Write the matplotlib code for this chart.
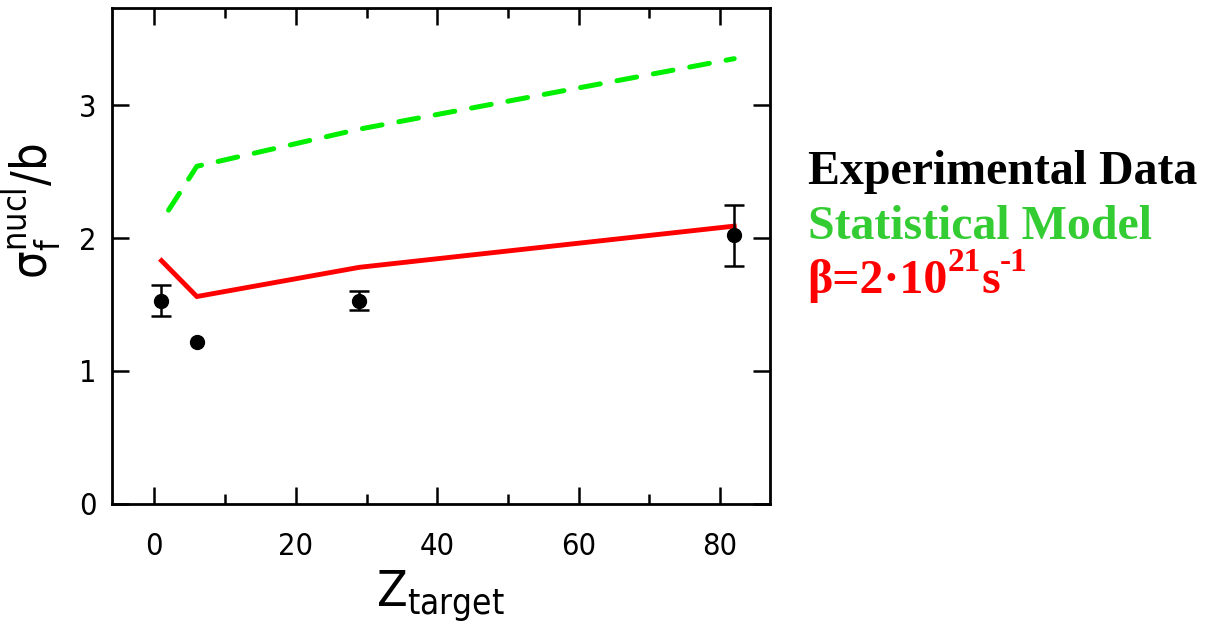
import matplotlib
matplotlib.use("Agg")
import matplotlib.pyplot as plt
from matplotlib.ticker import MultipleLocator

# measured fission cross sections vs. target charge
z_exp = [1, 6, 29, 82]
sigma_exp = [1.53, 1.22, 1.53, 2.02]
sigma_err = [0.12, 0.0, 0.075, 0.23]

# statistical model (no dissipation)
z_stat = [2.0, 6, 29, 82]
sigma_stat = [2.21, 2.54, 2.82, 3.35]

# model with beta = 2e21 /s
z_beta = [1, 6, 29, 82]
sigma_beta = [1.83, 1.56, 1.78, 2.09]

plt.rcParams["font.family"] = ["DejaVu Sans"]
plt.rcParams["font.stretch"] = "condensed"
plt.rcParams["mathtext.default"] = "regular"

fig = plt.figure(figsize=(12.2, 6.29), dpi=100)
ax = fig.add_axes([0.0918, 0.199, 0.539, 0.788])

ax.plot(z_stat, sigma_stat, color="#00f000", lw=3.6, ls=(0, (4, 3.4)),
        dash_capstyle="round")
ax.plot(z_beta, sigma_beta, color="#ff0000", lw=3.5, solid_joinstyle="miter")

# error bars only where an uncertainty is quoted
with_err = [i for i, e in enumerate(sigma_err) if e > 0]
ax.errorbar([z_exp[i] for i in with_err], [sigma_exp[i] for i in with_err],
            yerr=[sigma_err[i] for i in with_err], fmt="none", ecolor="black",
            elinewidth=1.8, capsize=7, capthick=1.8)
ax.plot(z_exp, sigma_exp, "o", color="black", ms=10)

ax.set_xlim(-6, 87)
ax.set_ylim(0, 3.73)
ax.xaxis.set_major_locator(MultipleLocator(20))
ax.xaxis.set_minor_locator(MultipleLocator(10))
ax.yaxis.set_major_locator(MultipleLocator(1))
ax.tick_params(which="both", direction="in", top=True, right=True, width=1.8)
ax.tick_params(which="major", length=12, labelsize=22)
ax.tick_params(axis="x", which="major", pad=20)
ax.tick_params(axis="y", which="major", pad=11)
ax.tick_params(which="minor", length=7)
for s in ax.spines.values():
    s.set_linewidth(2)

ax.set_xlabel("$Z_{target}$", fontsize=36, labelpad=6)
ax.set_ylabel("$\\sigma_f^{nucl}$/b", fontsize=35, labelpad=4)
ax.yaxis.set_label_coords(-0.075, 0.59)

# legend-style captions on the right
serif = dict(family=["Liberation Serif", "DejaVu Serif"], fontweight="bold",
             stretch="normal")
fig.text(0.662, 0.708, "Experimental Data", color="black", fontsize=34.5, **serif)
fig.text(0.662, 0.620, "Statistical Model", color="#33cc33", fontsize=34.5, **serif)

# beta caption built piece by piece so the exponents keep plain hyphens
pieces = [("β=2·10", 0.0, 34.5), ("21", 0.035, 24), ("s", 0.0, 34.5), ("-1", 0.035, 24)]
renderer = fig.canvas.get_renderer()
x = 0.662
for txt, dy, size in pieces:
    t = fig.text(x, 0.534 + dy, txt, color="#ff0000", fontsize=size, **serif)
    bb = t.get_window_extent(renderer)
    x += bb.width / fig.bbox.width

fig.savefig("out.png", dpi=100)
